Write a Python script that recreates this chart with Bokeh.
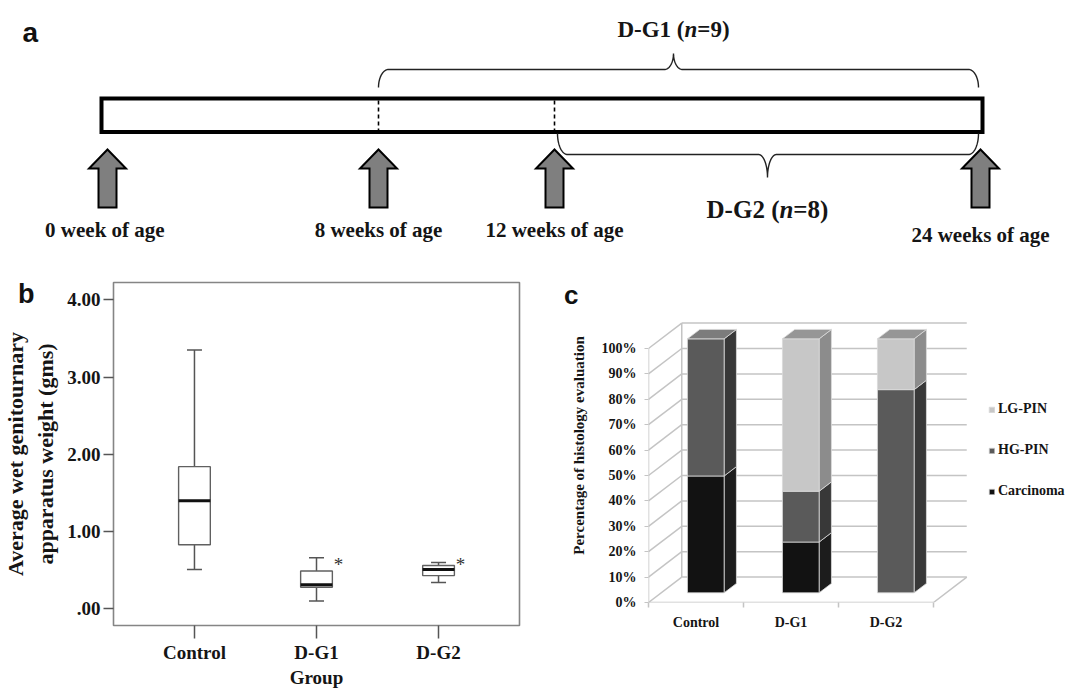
import numpy as np
from bokeh.plotting import figure
from bokeh.models import (Range1d, FactorRange, ColumnDataSource, Label, Whisker, TeeHead,
                          FixedTicker, Legend, LegendItem, LinearAxis)
from bokeh.layouts import column, row
from bokeh.embed import file_html
from bokeh.resources import INLINE
from bokeh.core.properties import value

SERIF = "Liberation Serif"
SANS = "Liberation Sans"
INK = "#151515"

# ---------------- panel a : study design (schematic timeline) ----------------
stage_labels = ["0  week of age", "8 weeks of age", "12 weeks of age", "24 weeks of age"]
stage_weeks = [0, 8, 12, 24]
stage_pos = [107, 378, 554, 980]          # schematic (non-linear) positions on the drawn bar
stage_label_y = [229, 229, 229, 234]
timeline_ends = [101, 982]
group_names = ["D-G1", "D-G2"]
group_n = ["9", "8"]
group_start_stage = [1, 2]
group_end_stage = [3, 3]
group_label_x = [673, 767]

# ---------------- panel b : genitourinary weight box plot ----------------
box_groups = ["Control", "D-G1", "D-G2"]
box_low = [0.51, 0.10, 0.34]
box_q1 = [0.83, 0.28, 0.43]
box_median = [1.40, 0.31, 0.51]
box_q3 = [1.84, 0.49, 0.56]
box_high = [3.35, 0.66, 0.60]
sig_groups = ["D-G1", "D-G2"]
sig_marker_y = [0.57, 0.57]
b_yticks = [0, 1, 2, 3, 4]
b_ytick_labels = [".00", "1.00", "2.00", "3.00", "4.00"]

# ---------------- panel c : histology (3-D stacked bars) ----------------
hist_groups = ["Control", "D-G1", "D-G2"]
carcinoma = [46, 20, 0]
hg_pin = [54, 20, 80]
lg_pin = [0, 60, 20]
c_yticks = list(range(0, 101, 10))
c_ytick_labels = [f"{t}%" for t in c_yticks]


def base_fig(**kw):
    p = figure(toolbar_location=None, output_backend="svg",
               background_fill_color="white", border_fill_color="white", **kw)
    p.frame_align = False
    return p


def letter_axis(p, at, letter, standoff, size):
    """Panel letter drawn as the single tick label of an extra (outer) left axis."""
    ax = LinearAxis(ticker=FixedTicker(ticks=[at]), major_label_overrides={at: letter},
                    axis_line_color=None, major_tick_line_color=None, minor_tick_line_color=None,
                    major_label_standoff=standoff, major_label_text_font=SANS,
                    major_label_text_font_style="bold", major_label_text_font_size=size,
                    major_label_text_color="#111111")
    p.add_layout(ax, "left")


# =========================== PANEL A ===========================
pa = base_fig(width=1068, height=258, x_range=Range1d(0, 1068), y_range=Range1d(258, 0),
              x_axis_type=None, y_axis_type=None, min_border=0,
              min_border_left=0, min_border_right=0, min_border_top=0, min_border_bottom=0)
pa.outline_line_color = None

BAR_TOP, BAR_BOT = 98, 131.5
pa.quad(left=[timeline_ends[0]], right=[timeline_ends[1]], top=[BAR_TOP], bottom=[BAR_BOT],
        fill_color="white", line_color="black", line_width=4, line_join="miter")
inner = [stage_pos[i] for i in (1, 2)]
pa.segment(x0=inner, y0=[BAR_TOP + 2] * 2, x1=inner, y1=[BAR_BOT - 2] * 2,
           line_color="black", line_width=1.6, line_dash="4 3")

TIP, HEAD, BOTTOM, HH, SH = 149, 168, 207, 18.5, 9
axs, ays = [], []
for x in stage_pos:
    axs.append([x, x + HH, x + SH, x + SH, x - SH, x - SH, x - HH])
    ays.append([TIP, HEAD, HEAD, BOTTOM, BOTTOM, HEAD, HEAD])
pa.patches(xs=axs, ys=ays, fill_color="#7f7f7f", line_color="black", line_width=2,
           line_join="miter")
pa.text(x=stage_pos, y=stage_label_y, text=stage_labels, text_font=value(SERIF),
        text_font_style="bold", text_font_size="21px", text_align="center",
        text_baseline="middle", text_color=INK)


def brace(x0, x1, y_edge, y_line, y_tip, xm, r=10, c=9, n=24):
    t = np.linspace(0, np.pi / 2, n)
    dy = y_line - y_edge
    dt = y_tip - y_line
    lx = x0 + r - r * np.cos(t); ly = y_edge + dy * np.sin(t)
    mlx = xm - c + c * np.sin(t); mly = y_tip - dt * np.cos(t)
    mrx = xm + c - c * np.cos(t); mry = y_tip - dt * np.sin(t)
    rx = x1 - r + r * np.sin(t); ry = y_edge + dy * np.cos(t)
    return np.concatenate([lx, mlx, mrx, rx]), np.concatenate([ly, mly, mry, ry])


brace_levels = [(87, 69, 53), (133, 154, 177)]
label_y = [29, 209]
label_size = [23, 25]
W_BOLD = {"D": .722, "-": .333, "G": .778, "1": .5, "2": .5, " ": .25, "(": .333, ")": .333,
          "=": .570, "8": .5, "9": .5, "n": .556}
for k in range(2):
    x0 = stage_pos[group_start_stage[k]] + (0 if k == 0 else 3)
    x1 = stage_pos[group_end_stage[k]] - 2
    ye, yl, yt = brace_levels[k]
    bx, by = brace(x0, x1, ye, yl, yt, group_label_x[k])
    pa.line(bx, by, line_color="#222222", line_width=1.4)
    parts = [(group_names[k] + " (", "bold"), ("n", "bold italic"), ("=" + group_n[k] + ")", "bold")]
    size = label_size[k]
    widths = [sum(W_BOLD.get(ch, .5) for ch in s) * size for s, _ in parts]
    xcur = group_label_x[k] - sum(widths) / 2
    for (s, style), w in zip(parts, widths):
        pa.text(x=[xcur], y=[label_y[k]], text=[s], text_font=value(SERIF), text_font_style=style,
                text_font_size=f"{size}px", text_align="left", text_baseline="middle",
                text_color=INK)
        xcur += w

pa.add_layout(Label(x=22, y=32, text="a", text_font=SANS, text_font_style="bold",
                    text_font_size="28px", text_baseline="alphabetic", text_color="#111111"))

# =========================== PANEL B ===========================
pb = base_fig(width=538, height=433,
              x_range=FactorRange(factors=box_groups, range_padding=0.109),
              y_range=Range1d(-0.216, 4.224),
              min_border_left=110, min_border_right=19, min_border_top=24, min_border_bottom=66)
pb.grid.visible = False
pb.outline_line_color = "#858585"
pb.outline_line_width = 1.6

src = ColumnDataSource(dict(g=box_groups, lo=box_low, q1=box_q1, med=box_median,
                            q3=box_q3, hi=box_high))
wh = Whisker(source=src, base="g", lower="lo", upper="hi", dimension="height",
             line_color="#555555", line_width=1.5, level="underlay",
             upper_head=TeeHead(size=15, line_color="#555555", line_width=1.5),
             lower_head=TeeHead(size=15, line_color="#555555", line_width=1.5))
pb.add_layout(wh)
pb.vbar(x="g", width=0.26, bottom="q1", top="q3", source=src, fill_color="white",
        line_color="#606060", line_width=1.4)
pb.rect(x="g", y="med", width=0.26, height=3, height_units="screen", source=src,
        fill_color="#111111", line_color=None)
pb.text(x=sig_groups, y=sig_marker_y, text=["*"] * len(sig_groups), x_offset=22,
        text_font=value(SERIF), text_font_size="19px", text_align="center",
        text_baseline="alphabetic", text_color="#333333")

for ax in (pb.xaxis, pb.yaxis):
    ax.axis_line_color = None
    ax.major_tick_line_color = "#555555"
    ax.major_tick_line_width = 1.5
    ax.major_tick_in = 0
    ax.minor_tick_line_color = None
    ax.major_label_text_font = SERIF
    ax.major_label_text_font_style = "bold"
    ax.major_label_text_font_size = "19px"
    ax.major_label_text_color = INK
    ax.axis_label_text_font = SERIF
    ax.axis_label_text_font_style = "bold"
    ax.axis_label_text_color = INK
pb.yaxis.ticker = FixedTicker(ticks=b_yticks)
pb.yaxis.major_label_overrides = dict(zip(b_yticks, b_ytick_labels))
pb.yaxis.major_tick_out = 10
pb.yaxis.major_label_standoff = 3
pb.yaxis.axis_label = "Average wet genitournary\napparatus weight (gms)"
pb.yaxis.axis_label_text_font_size = "22px"
pb.yaxis.axis_label_standoff = 6
pb.xaxis.major_tick_out = 13
pb.xaxis.major_label_standoff = 3
pb.xaxis.axis_label = "Group"
pb.xaxis.axis_label_text_font_size = "19px"
pb.xaxis.axis_label_standoff = 1
letter_axis(pb, 4.07, "b", -40, "27px")

# =========================== PANEL C ===========================
CAT_PX, PCT_PX = 95.0, 2.54
pc = base_fig(width=530, height=433,
              x_range=Range1d(0, 420 / CAT_PX), y_range=Range1d(0, 314 / PCT_PX),
              min_border_left=110, min_border_right=0, min_border_top=30, min_border_bottom=89)
pc.grid.visible = False
pc.outline_line_color = None

DX, DH = 0.35, 10.0          # oblique depth of the chart box (category units, percent units)
D0, D1 = 0.38, 0.75          # front / back depth fraction of the bars
BAR_L, BAR_W = 0.277, 0.386  # bar position inside each category
n_cat = len(hist_groups)
WALL = "#c4c4c4"

gx0, gy0, gx1, gy1 = [], [], [], []
for t in c_yticks:
    gx0 += [0, DX]; gy0 += [t, t + DH]
    gx1 += [DX, n_cat + DX]; gy1 += [t + DH, t + DH]
gx0 += [0, 0, n_cat, DX]; gy0 += [0, 0, 0, DH]
gx1 += [n_cat, 0, n_cat + DX, DX]; gy1 += [0, c_yticks[-1], DH, c_yticks[-1] + DH]
pc.segment(x0=gx0, y0=gy0, x1=gx1, y1=gy1, line_color=WALL, line_width=1.5)

series = [("Carcinoma", carcinoma, "#121212", "#1c1c1c", "#2a2a2a"),
          ("HG-PIN", hg_pin, "#5a5a5a", "#383838", "#7c7c7c"),
          ("LG-PIN", lg_pin, "#c7c7c7", "#8c8c8c", "#969696")]
EDGE = "#dadada"
base = np.zeros(n_cat)
front_renderers = {}
top_color = [None] * n_cat
for name, vals, fc, sc, tc in series:
    v = np.array(vals, dtype=float)
    top = base + v
    idx = np.arange(n_cat)[v > 0]
    xl = idx + BAR_L
    xr = xl + BAR_W
    b = base[idx]; tp = top[idx]
    sxs = [[r + D0 * DX, r + D1 * DX, r + D1 * DX, r + D0 * DX] for r in xr]
    sys_ = [[bb + D0 * DH, bb + D1 * DH, tt + D1 * DH, tt + D0 * DH] for bb, tt in zip(b, tp)]
    pc.patches(xs=sxs, ys=sys_, fill_color=sc, line_color=EDGE, line_width=0.8)
    fsrc = ColumnDataSource(dict(x=(xl + xr) / 2 + D0 * DX, bottom=b + D0 * DH, top=tp + D0 * DH))
    front_renderers[name] = pc.vbar(x="x", width=BAR_W, bottom="bottom", top="top", source=fsrc,
                                    fill_color=fc, line_color=EDGE, line_width=0.8)
    for i in idx:
        top_color[i] = tc
    base = top
txs, tys = [], []
for i in range(n_cat):
    l, r, T = i + BAR_L, i + BAR_L + BAR_W, base[i]
    txs.append([l + D0 * DX, r + D0 * DX, r + D1 * DX, l + D1 * DX])
    tys.append([T + D0 * DH, T + D0 * DH, T + D1 * DH, T + D1 * DH])
pc.patches(xs=txs, ys=tys, fill_color=top_color, line_color=EDGE, line_width=0.8)

pc.yaxis.ticker = FixedTicker(ticks=c_yticks)
pc.yaxis.major_label_overrides = dict(zip(c_yticks, c_ytick_labels))
pc.xaxis.ticker = FixedTicker(ticks=[i + 0.5 for i in range(n_cat)],
                              minor_ticks=list(range(n_cat + 1)))
pc.xaxis.major_label_overrides = {i + 0.5: g for i, g in enumerate(hist_groups)}
for ax in (pc.xaxis, pc.yaxis):
    ax.axis_line_color = None
    ax.major_label_text_font = SERIF
    ax.major_label_text_font_style = "bold"
    ax.major_label_text_font_size = "14px"
    ax.major_label_text_color = INK
    ax.major_tick_in = 0
pc.yaxis.major_tick_out = 4
pc.yaxis.major_tick_line_color = WALL
pc.yaxis.minor_tick_line_color = None
pc.yaxis.major_label_standoff = 8
pc.yaxis.axis_label = "Percentage of histology evaluation"
pc.yaxis.axis_label_text_font = SERIF
pc.yaxis.axis_label_text_font_style = "bold"
pc.yaxis.axis_label_text_font_size = "15px"
pc.yaxis.axis_label_text_color = INK
pc.yaxis.axis_label_standoff = 12
pc.xaxis.major_tick_out = 0
pc.xaxis.major_tick_line_color = None
pc.xaxis.minor_tick_out = 5
pc.xaxis.minor_tick_in = 0
pc.xaxis.minor_tick_line_color = WALL
pc.xaxis.minor_tick_line_width = 1.5
pc.xaxis.major_label_standoff = 7
letter_axis(pc, 121.2, "c", -17, "26px")

legend = Legend(items=[LegendItem(label=name, renderers=[front_renderers[name]])
                       for name in ("LG-PIN", "HG-PIN", "Carcinoma")],
                location=(340, 103), orientation="vertical",
                label_text_font=SERIF, label_text_font_style="bold",
                label_text_font_size="14px", label_text_color=INK,
                glyph_width=7, glyph_height=7, label_standoff=3, label_height=15,
                spacing=25, padding=0, margin=0, border_line_color=None,
                background_fill_alpha=0)
pc.add_layout(legend)

layout = column(pa, row(pb, pc))
open("out.html", "w").write(file_html(layout, INLINE, "figure"))
